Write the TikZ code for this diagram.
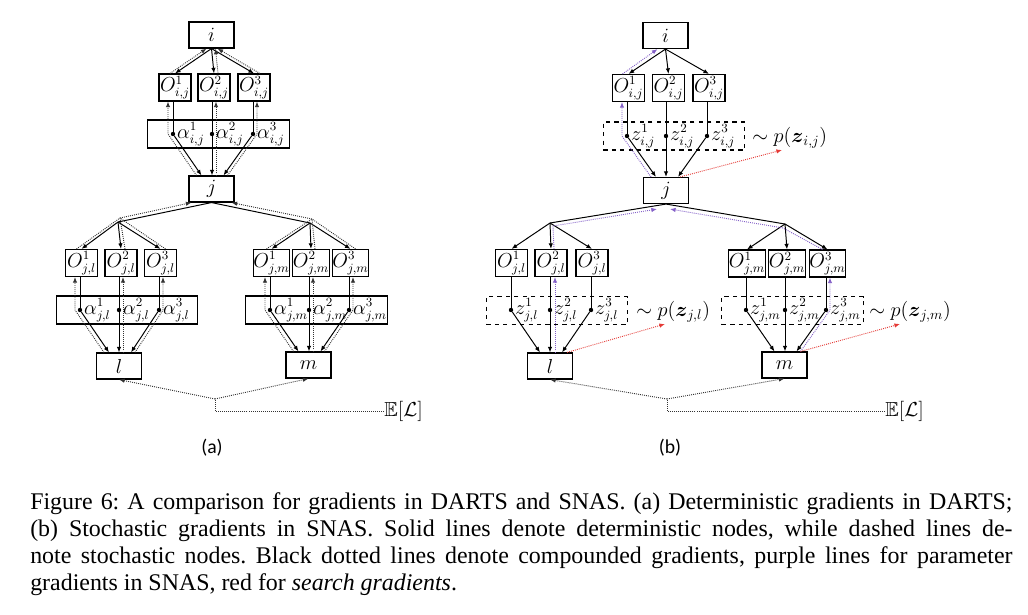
\documentclass[tikz,border=0pt]{standalone}
\usepackage{amsmath,amssymb}
\usepackage[no-math]{fontspec}
\setmainfont{Liberation Serif}
\newfontfamily\labelfont{Carlito}
\usepackage{tikz}
\usetikzlibrary{arrows.meta,positioning,calc}
\definecolor{Purple}{HTML}{8460C8}
\definecolor{SearchRed}{HTML}{E53935}
\tikzset{
  nodebox/.style={draw, line width=0.8pt, minimum width=1.125cm, minimum height=0.65cm, inner sep=1pt, font=\fontsize{14.4}{16}\selectfont},
  opbox/.style={draw, line width=0.8pt, minimum width=0.8cm, minimum height=0.675cm, inner sep=0pt, font=\fontsize{13.5}{15}\selectfont},
  mixbox/.style={draw, line width=0.8pt, minimum width=3.53cm, minimum height=0.7cm, inner sep=0pt},
  stochbox/.style={mixbox, dashed},
  mixdot/.style={circle, fill, inner sep=0pt, minimum size=0.11cm},
  mixlabel/.style={inner sep=0.5pt, font=\fontsize{13.5}{15}\selectfont},
  fwdarrow/.style={-{Latex[length=1.4mm,width=1.1mm]}, line width=0.7pt},
  fwdline/.style={line width=0.7pt},
  gradarrow/.style={-{Latex[length=1.4mm,width=1.1mm]}, line width=0.65pt, draw=black!80, dash pattern=on 0.65pt off 0.8pt},
  gradline/.style={line width=0.65pt, draw=black!80, dash pattern=on 0.65pt off 0.8pt},
  paramarrow/.style={gradarrow, draw=Purple},
  searcharrow/.style={gradarrow, draw=SearchRed},
  distlabel/.style={anchor=west, inner sep=0pt, font=\fontsize{14.4}{17}\selectfont},
  losslabel/.style={anchor=west, inner sep=0pt, font=\fontsize{14.4}{16}\selectfont},
  panellabel/.style={font=\labelfont\fontsize{14}{16}\selectfont},
}
\begin{document}
\begin{tikzpicture}[x=0.025cm,y=-0.025cm]
\fill[white] (0,0) rectangle (1028,614);
\path[use as bounding box] (0,0) rectangle (1028,614);

% (a) DARTS: cell i -> j
\node[nodebox] (ia) at (211.5,35) {$i$};
\node[opbox] (oija1) at (175,87.5) {$O^1_{i,j}$};
\node[opbox] (oija2) at (214,87.5) {$O^2_{i,j}$};
\node[opbox] (oija3) at (254,87.5) {$O^3_{i,j}$};
\node[mixbox] (mixija) at (218.5,134) {};
\node[mixdot] (dija1) at (173,134) {};
\node[mixdot] (dija2) at (212,134) {};
\node[mixdot] (dija3) at (253,134) {};
\node[mixlabel,right=0.5pt of dija1] (aija1) {$\alpha^1_{i,j}$};
\node[mixlabel,right=0.5pt of dija2] (aija2) {$\alpha^2_{i,j}$};
\node[mixlabel,right=0.5pt of dija3] (aija3) {$\alpha^3_{i,j}$};
\node[nodebox] (ja) at (211.5,189) {$j$};
\coordinate (bla) at (118,222);
\coordinate (bra) at (310,223);

% (a) j -> l
\node[opbox] (ojla1) at (81.5,263) {$O^1_{j,l}$};
\node[opbox] (ojla2) at (121,263) {$O^2_{j,l}$};
\node[opbox] (ojla3) at (160.5,263) {$O^3_{j,l}$};
\node[mixbox] (mixjla) at (127,310) {};
\node[mixdot] (djla1) at (80,310) {};
\node[mixdot] (djla2) at (119,310) {};
\node[mixdot] (djla3) at (159,310) {};
\node[mixlabel,right=0.5pt of djla1] (ajla1) {$\alpha^1_{j,l}$};
\node[mixlabel,right=0.5pt of djla2] (ajla2) {$\alpha^2_{j,l}$};
\node[mixlabel,right=0.5pt of djla3] (ajla3) {$\alpha^3_{j,l}$};
\node[nodebox] (la) at (119,366) {$l$};

% (a) j -> m
\node[opbox] (ojma1) at (271.5,263) {$O^1_{j,m}$};
\node[opbox] (ojma2) at (311,263) {$O^2_{j,m}$};
\node[opbox] (ojma3) at (350.5,263) {$O^3_{j,m}$};
\node[mixbox] (mixjma) at (316.5,310) {};
\node[mixdot] (djma1) at (270,310) {};
\node[mixdot] (djma2) at (309,310) {};
\node[mixdot] (djma3) at (349,310) {};
\node[mixlabel,right=0.5pt of djma1] (ajma1) {$\alpha^1_{j,m}$};
\node[mixlabel,right=0.5pt of djma2] (ajma2) {$\alpha^2_{j,m}$};
\node[mixlabel,right=0.5pt of djma3] (ajma3) {$\alpha^3_{j,m}$};
\node[nodebox] (ma) at (308.5,365) {$m$};

\node[losslabel] (lossa) at (384,411) {$\mathbb{E}[\mathcal{L}]$};
\coordinate (forka) at (215,399);
\node[panellabel] (capa) at (212,448) {(a)};

% (a) forward edges
\draw[fwdarrow] (ia.south) -- (oija1.north);
\draw[fwdarrow] (ia.south) -- (oija2.north);
\draw[fwdarrow] (ia.south) -- (oija3.north);
\draw[fwdline] (oija1.south -| dija1) -- (dija1);
\draw[fwdline] (oija2.south -| dija2) -- (dija2);
\draw[fwdline] (oija3.south -| dija3) -- (dija3);
\draw[fwdarrow] (dija1) -- ($(ja.north)+(-10,0)$);
\draw[fwdarrow] (dija2) -- (dija2 |- ja.north);
\draw[fwdarrow] (dija3) -- ($(ja.north)+(12,0)$);
\draw[fwdline] (ja.south) -- (bla);
\draw[fwdline] (ja.south) -- (bra);
\draw[fwdarrow] (bla) -- (ojla1.north);
\draw[fwdarrow] (bla) -- (ojla2.north);
\draw[fwdarrow] (bla) -- (ojla3.north);
\draw[fwdline] (ojla1.south -| djla1) -- (djla1);
\draw[fwdline] (ojla2.south -| djla2) -- (djla2);
\draw[fwdline] (ojla3.south -| djla3) -- (djla3);
\draw[fwdarrow] (djla1) -- ($(la.north)+(-10,0)$);
\draw[fwdarrow] (djla2) -- (djla2 |- la.north);
\draw[fwdarrow] (djla3) -- ($(la.north)+(12,0)$);
\draw[fwdarrow] (bra) -- (ojma1.north);
\draw[fwdarrow] (bra) -- (ojma2.north);
\draw[fwdarrow] (bra) -- (ojma3.north);
\draw[fwdline] (ojma1.south -| djma1) -- (djma1);
\draw[fwdline] (ojma2.south -| djma2) -- (djma2);
\draw[fwdline] (ojma3.south -| djma3) -- (djma3);
\draw[fwdarrow] (djma1) -- ($(ma.north)+(-10,0)$);
\draw[fwdarrow] (djma2) -- (djma2 |- ma.north);
\draw[fwdarrow] (djma3) -- ($(ma.north)+(12,0)$);

% (a) compounded gradients
\draw[gradarrow] ($(oija1.north)+(-5,0)$) -- ($(ia.south)+(-5,0)$);
\draw[gradarrow] ($(oija2.north)+(4,0)$) -- ($(ia.south)+(4,0)$);
\draw[gradarrow] ($(oija3.north)+(6,0)$) -- ($(ia.south)+(6,0)$);
\draw[gradarrow] ($(ja.north)+(-15,0)$) -- ($(dija1)+(-5,0)$) -- ($(dija1 |- oija1.south)+(-5,0)$);
\draw[gradarrow] ($(dija2 |- ja.north)+(4,0)$) -- ($(dija2 |- oija2.south)+(4,0)$);
\draw[gradarrow] ($(ja.north)+(16,0)$) -- ($(dija3)+(4,0)$) -- ($(dija3 |- oija3.south)+(4,0)$);
\coordinate (gla) at ($(bla)+(2,-4)$);
\coordinate (gra) at ($(bra)+(2,-4)$);
\draw[gradline] ($(ojla1.north)+(-5,0)$) -- (gla);
\draw[gradline] ($(ojla2.north)+(4,0)$) -- (gla);
\draw[gradline] ($(ojla3.north)+(5,0)$) -- (gla);
\draw[gradarrow] (gla) -- ($(ja.south)+(-20,0)$);
\draw[gradline] ($(ojma1.north)+(-5,0)$) -- (gra);
\draw[gradline] ($(ojma2.north)+(4,0)$) -- (gra);
\draw[gradline] ($(ojma3.north)+(5,0)$) -- (gra);
\draw[gradarrow] (gra) -- ($(ja.south)+(20,0)$);
\draw[gradarrow] ($(la.north)+(-15,0)$) -- ($(djla1)+(-5,0)$) -- ($(djla1 |- ojla1.south)+(-5,0)$);
\draw[gradarrow] ($(djla2 |- la.north)+(4,0)$) -- ($(djla2 |- ojla2.south)+(4,0)$);
\draw[gradarrow] ($(la.north)+(16,0)$) -- ($(djla3)+(4,0)$) -- ($(djla3 |- ojla3.south)+(4,0)$);
\draw[gradarrow] ($(ma.north)+(-15,0)$) -- ($(djma1)+(-5,0)$) -- ($(djma1 |- ojma1.south)+(-5,0)$);
\draw[gradarrow] ($(djma2 |- ma.north)+(4,0)$) -- ($(djma2 |- ojma2.south)+(4,0)$);
\draw[gradarrow] ($(ma.north)+(16,0)$) -- ($(djma3)+(4,0)$) -- ($(djma3 |- ojma3.south)+(4,0)$);
\draw[gradline] (lossa.west) -| (forka);
\draw[gradarrow] (forka) -- (la.south);
\draw[gradarrow] (forka) -- (ma.south);

% (b) SNAS: cell i -> j
\node[nodebox] (ib) at (665.5,35.5) {$i$};
\node[opbox] (oijb1) at (628.5,88) {$O^1_{i,j}$};
\node[opbox] (oijb2) at (668.5,88) {$O^2_{i,j}$};
\node[opbox] (oijb3) at (709,88) {$O^3_{i,j}$};
\node[stochbox] (mixijb) at (674,136) {};
\node[mixdot] (dijb1) at (627,136) {};
\node[mixdot] (dijb2) at (666,136) {};
\node[mixdot] (dijb3) at (707,136) {};
\node[mixlabel,right=0.5pt of dijb1] (zijb1) {$z^1_{i,j}$};
\node[mixlabel,right=0.5pt of dijb2] (zijb2) {$z^2_{i,j}$};
\node[mixlabel,right=0.5pt of dijb3] (zijb3) {$z^3_{i,j}$};
\node[distlabel] (pij) at (752,138) {$\sim p(\boldsymbol{z}_{i,j})$};
\coordinate (rij) at (782,150);
\node[nodebox] (jb) at (666,190.5) {$j$};
\coordinate (blb) at (550,223);
\coordinate (brb) at (785,224);

% (b) j -> l
\node[opbox] (ojlb1) at (511.5,263) {$O^1_{j,l}$};
\node[opbox] (ojlb2) at (551,263) {$O^2_{j,l}$};
\node[opbox] (ojlb3) at (592,263) {$O^3_{j,l}$};
\node[stochbox] (mixjlb) at (557,310.5) {};
\node[mixdot] (djlb1) at (511,310) {};
\node[mixdot] (djlb2) at (550,310) {};
\node[mixdot] (djlb3) at (591,310) {};
\node[mixlabel,right=0.5pt of djlb1] (zjlb1) {$z^1_{j,l}$};
\node[mixlabel,right=0.5pt of djlb2] (zjlb2) {$z^2_{j,l}$};
\node[mixlabel,right=0.5pt of djlb3] (zjlb3) {$z^3_{j,l}$};
\node[distlabel] (pjl) at (636,312) {$\sim p(\boldsymbol{z}_{j,l})$};
\coordinate (rjl) at (665,324);
\node[nodebox] (lb) at (550,366) {$l$};

% (b) j -> m
\node[opbox] (ojmb1) at (747,263.5) {$O^1_{j,m}$};
\node[opbox] (ojmb2) at (787,263.5) {$O^2_{j,m}$};
\node[opbox] (ojmb3) at (827.5,263.5) {$O^3_{j,m}$};
\node[stochbox] (mixjmb) at (792.5,310.5) {};
\node[mixdot] (djmb1) at (746,310) {};
\node[mixdot] (djmb2) at (785,310) {};
\node[mixdot] (djmb3) at (826,310) {};
\node[mixlabel,right=0.5pt of djmb1] (zjmb1) {$z^1_{j,m}$};
\node[mixlabel,right=0.5pt of djmb2] (zjmb2) {$z^2_{j,m}$};
\node[mixlabel,right=0.5pt of djmb3] (zjmb3) {$z^3_{j,m}$};
\node[distlabel] (pjm) at (869,312) {$\sim p(\boldsymbol{z}_{j,m})$};
\coordinate (rjm) at (900,324);
\node[nodebox] (mb) at (784.5,365) {$m$};

\node[losslabel] (lossb) at (885,411) {$\mathbb{E}[\mathcal{L}]$};
\coordinate (forkb) at (667,399);
\node[panellabel] (capb) at (670,448) {(b)};

% (b) forward edges
\draw[fwdarrow] (ib.south) -- (oijb1.north);
\draw[fwdarrow] (ib.south) -- (oijb2.north);
\draw[fwdarrow] (ib.south) -- (oijb3.north);
\draw[fwdline] (oijb1.south -| dijb1) -- (dijb1);
\draw[fwdline] (oijb2.south -| dijb2) -- (dijb2);
\draw[fwdline] (oijb3.south -| dijb3) -- (dijb3);
\draw[fwdarrow] (dijb1) -- ($(jb.north)+(-10,0)$);
\draw[fwdarrow] (dijb2) -- (dijb2 |- jb.north);
\draw[fwdarrow] (dijb3) -- ($(jb.north)+(12,0)$);
\draw[fwdline] (jb.south) -- (blb);
\draw[fwdline] (jb.south) -- (brb);
\draw[fwdarrow] (blb) -- (ojlb1.north);
\draw[fwdarrow] (blb) -- (ojlb2.north);
\draw[fwdarrow] (blb) -- (ojlb3.north);
\draw[fwdline] (ojlb1.south -| djlb1) -- (djlb1);
\draw[fwdline] (ojlb2.south -| djlb2) -- (djlb2);
\draw[fwdline] (ojlb3.south -| djlb3) -- (djlb3);
\draw[fwdarrow] (djlb1) -- ($(lb.north)+(-10,0)$);
\draw[fwdarrow] (djlb2) -- (djlb2 |- lb.north);
\draw[fwdarrow] (djlb3) -- ($(lb.north)+(12,0)$);
\draw[fwdarrow] (brb) -- (ojmb1.north);
\draw[fwdarrow] (brb) -- (ojmb2.north);
\draw[fwdarrow] (brb) -- (ojmb3.north);
\draw[fwdline] (ojmb1.south -| djmb1) -- (djmb1);
\draw[fwdline] (ojmb2.south -| djmb2) -- (djmb2);
\draw[fwdline] (ojmb3.south -| djmb3) -- (djmb3);
\draw[fwdarrow] (djmb1) -- ($(mb.north)+(-10,0)$);
\draw[fwdarrow] (djmb2) -- (djmb2 |- mb.north);
\draw[fwdarrow] (djmb3) -- ($(mb.north)+(12,0)$);

% (b) parameter gradients and search gradients
\draw[paramarrow] ($(jb.north)+(-15,0)$) -- ($(dijb1)+(-5,0)$) -- ($(dijb1 |- oijb1.south)+(-5,0)$);
\draw[paramarrow] ($(oijb1.north)+(-6,0)$) -- ($(ib.south)+(-8,0)$);
\draw[paramarrow] ($(djlb2 |- lb.north)+(5,0)$) -- ($(djlb2 |- ojlb2.south)+(5,0)$);
\draw[paramarrow] ($(ojlb2.north)+(3,0)$) -- ($(blb)+(3,3)$) -- ($(jb.south)+(-9,5)$);
\draw[paramarrow] ($(mb.north)+(16,0)$) -- ($(djmb3)+(4,0)$) -- ($(djmb3 |- ojmb3.south)+(4,0)$);
\draw[paramarrow] ($(ojmb3.north)+(-5,0)$) -- ($(brb)+(-2,4)$) -- ($(jb.south)+(4,5)$);
\draw[searcharrow] ($(jb.north east)+(-9,0)$) -- (rij);
\draw[searcharrow] ($(lb.north east)+(-6,0)$) -- (rjl);
\draw[searcharrow] ($(mb.north east)+(-7,0)$) -- (rjm);
\draw[gradline] (lossb.west) -| (forkb);
\draw[gradarrow] (forkb) -- (lb.south);
\draw[gradarrow] (forkb) -- (mb.south);

% caption
\node[anchor=north west, text width=24.55cm, inner sep=0pt, align=justify, font=\fontsize{17}{19.2}\selectfont\frenchspacing] (caption) at (30,492) {Figure 6: A comparison for gradients in DARTS and SNAS. (a) Deterministic gradients in DARTS;\linebreak (b) Stochastic gradients in SNAS. Solid lines denote deterministic nodes, while dashed lines de-\linebreak note stochastic nodes. Black dotted lines denote compounded gradients, purple lines for parameter\linebreak gradients in SNAS, red for \textit{search gradients}.};
\end{tikzpicture}
\end{document}
